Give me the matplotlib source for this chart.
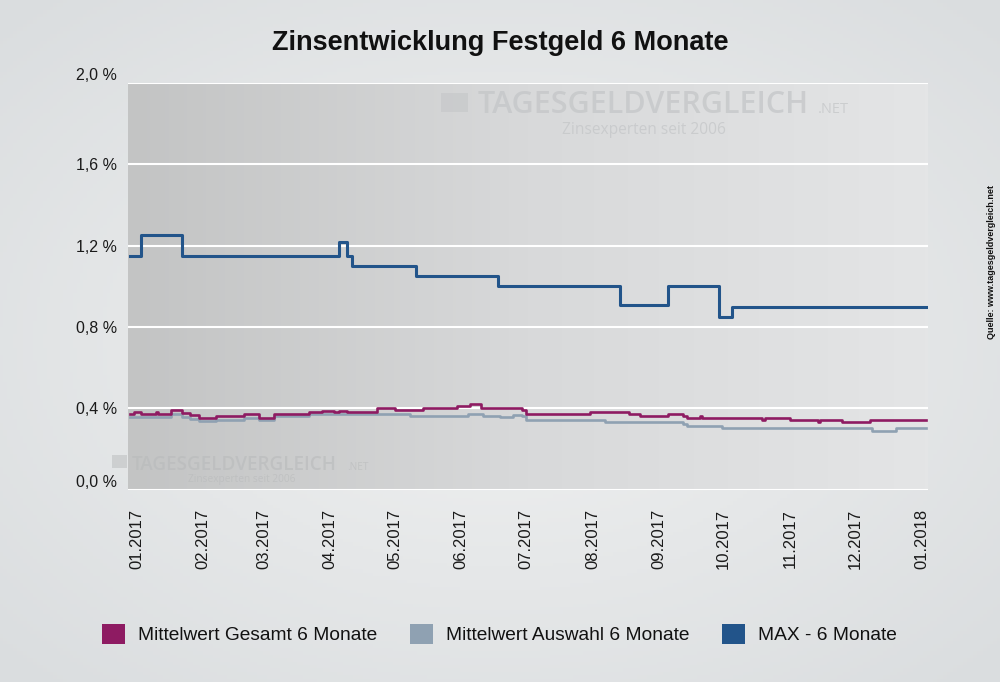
import numpy as np
import pandas as pd
import matplotlib
matplotlib.use("Agg")
import matplotlib.pyplot as plt
import matplotlib.dates as mdates
from matplotlib.patches import Patch, Rectangle
from matplotlib.colors import LinearSegmentedColormap

plt.rcParams['font.family'] = ['Liberation Sans', 'DejaVu Sans']

# ---------------- data ----------------
title = "Zinsentwicklung Festgeld 6 Monate"
series_names = ["Mittelwert Gesamt 6 Monate", "Mittelwert Auswahl 6 Monate", "MAX - 6 Monate"]
series_colors = ["#8e1b62", "#8fa1b2", "#22548a"]

end_date = "2018-01-03"

max_dates = ["2016-12-29", "2017-01-03", "2017-01-22", "2017-04-05", "2017-04-09",
             "2017-04-11", "2017-05-11", "2017-06-18", "2017-08-14", "2017-09-05",
             "2017-09-29", "2017-10-05"]
max_values = [1.15, 1.25, 1.15, 1.22, 1.15, 1.10, 1.05, 1.00, 0.91, 1.00, 0.85, 0.90]

gesamt_dates = ["2016-12-29", "2016-12-31", "2017-01-03", "2017-01-10", "2017-01-11",
                "2017-01-17", "2017-01-22", "2017-01-26", "2017-01-30", "2017-02-07",
                "2017-02-20", "2017-02-27", "2017-03-06", "2017-03-22", "2017-03-28",
                "2017-04-03", "2017-04-05", "2017-04-09", "2017-04-23", "2017-05-01",
                "2017-05-14", "2017-05-30", "2017-06-05", "2017-06-10", "2017-06-29",
                "2017-07-01", "2017-07-31", "2017-08-18", "2017-08-23", "2017-09-05",
                "2017-09-12", "2017-09-14", "2017-09-20", "2017-09-21", "2017-10-19",
                "2017-10-20", "2017-11-01", "2017-11-14", "2017-11-15", "2017-11-25",
                "2017-12-08"]
gesamt_values = [0.37, 0.38, 0.37, 0.38, 0.37, 0.39, 0.375, 0.365, 0.35, 0.362,
                 0.372, 0.351, 0.37, 0.38, 0.389, 0.38, 0.389, 0.38, 0.40, 0.39,
                 0.40, 0.41, 0.42, 0.40, 0.39, 0.372, 0.382, 0.372, 0.362, 0.372,
                 0.362, 0.351, 0.362, 0.351, 0.341, 0.351, 0.341, 0.331, 0.341, 0.331,
                 0.341]

auswahl_dates = ["2016-12-29", "2017-01-17", "2017-01-22", "2017-01-26", "2017-01-30",
                 "2017-02-07", "2017-02-20", "2017-02-27", "2017-03-06", "2017-03-22",
                 "2017-05-08", "2017-06-04", "2017-06-11", "2017-06-19", "2017-06-25",
                 "2017-06-29", "2017-07-01", "2017-08-07", "2017-09-12", "2017-09-14",
                 "2017-09-30", "2017-12-09", "2017-12-20"]
auswahl_values = [0.355, 0.37, 0.355, 0.345, 0.335, 0.34, 0.35, 0.34, 0.36, 0.37,
                  0.362, 0.372, 0.362, 0.355, 0.365, 0.36, 0.341, 0.331, 0.323, 0.314,
                  0.301, 0.29, 0.301]

y_ticks = [0.0, 0.4, 0.8, 1.2, 1.6, 2.0]
y_tick_labels = ["0,0 %", "0,4 %", "0,8 %", "1,2 %", "1,6 %", "2,0 %"]
x_tick_dates = pd.date_range("2017-01-01", "2018-01-01", freq="MS")

# ---------------- figure ----------------
W, H = 1000, 682
fig = plt.figure(figsize=(W / 100, H / 100), dpi=100)

# figure background (radial gradient)
bg = fig.add_axes([0, 0, 1, 1])
bg.set_zorder(-5)
yy, xx = np.mgrid[0:1:200j, 0:1:300j]
r = np.sqrt(((xx - 0.5) / 0.7) ** 2 + ((yy - 0.5) / 0.7) ** 2)
bg_cmap = LinearSegmentedColormap.from_list("bgc", ["#f1f2f2", "#dadddf"])
bg.imshow(r, cmap=bg_cmap, extent=[0, 1, 0, 1], aspect="auto", vmin=0, vmax=1.0)
bg.set_xlim(0, 1)
bg.set_ylim(0, 1)
bg.axis("off")

def fx(x):
    return x / W

def fy(y):
    return 1 - y / H

ax = fig.add_axes([fx(128), fy(489.6), 800 / W, (489.6 - 83) / H])

# plot area gradient (horizontal)
grad = np.linspace(0, 1, 256).reshape(1, -1)
pa_cmap = LinearSegmentedColormap.from_list("pa", ["#c3c4c4", "#d8d9da", "#e4e5e6"])
ax.imshow(grad, cmap=pa_cmap, extent=[0, 1, 0, 1], transform=ax.transAxes,
          aspect="auto", zorder=-2)

def series(dates, values):
    d = list(pd.to_datetime(dates)) + [pd.Timestamp(end_date)]
    v = list(values) + [values[-1]]
    return d, v

d, v = series(max_dates, max_values)
ax.plot(d, v, drawstyle="steps-post", color=series_colors[2], lw=2.2, zorder=3)
d, v = series(auswahl_dates, auswahl_values)
ax.plot(d, v, drawstyle="steps-post", color=series_colors[1], lw=1.9, zorder=3)
d, v = series(gesamt_dates, gesamt_values)
ax.plot(d, v, drawstyle="steps-post", color=series_colors[0], lw=1.9, zorder=4)

ax.set_xlim(pd.Timestamp("2016-12-28"), pd.Timestamp("2018-01-04"))
ax.set_ylim(0, 2.0)

ax.set_yticks(y_ticks, y_tick_labels)
ax.set_xticks(x_tick_dates)
ax.xaxis.set_major_formatter(mdates.DateFormatter("%m.%Y"))
ax.tick_params(axis="y", length=0, pad=8, labelsize=11.5, labelcolor="#1a1a1a")
ax.tick_params(axis="x", length=0, pad=14, labelsize=12, labelcolor="#1a1a1a",
               labelrotation=90)
yt = ax.yaxis.get_major_ticks()
yt[0].label1.set_va("bottom")
yt[-1].label1.set_va("bottom")

ax.grid(axis="y", color="white", lw=1.5, zorder=1)
ax.grid(axis="x", visible=False)
ax.set_axisbelow(True)
for s in ax.spines.values():
    s.set_visible(False)

# title
fig.text(0.5, fy(43), title, ha="center", va="center", fontsize=19.5,
         fontweight="bold", color="#111111")

# watermarks
wm_font = ["Open Sans", "DejaVu Sans"]
wm_col = "#c4c6c8"
fig.text(fx(478), fy(113), "TAGESGELDVERGLEICH", ha="left", va="baseline",
         fontsize=22.0, family=wm_font, fontweight="semibold",
         color=wm_col, alpha=0.75)
fig.text(fx(849), fy(113), ".NET", ha="right", va="baseline", fontsize=10.5,
         family=wm_font, color=wm_col, alpha=0.75)
fig.text(fx(644), fy(134), "Zinsexperten seit 2006", ha="center", va="baseline",
         fontsize=11.2, family=wm_font, color=wm_col, alpha=0.75)
fig.patches.append(Rectangle((fx(441), fy(112)), 27 / W, 19 / H,
                             transform=fig.transFigure, color=wm_col, alpha=0.6, lw=0))

wm_col2 = "#b8babb"
fig.text(fx(132), fy(469.5), "TAGESGELDVERGLEICH", ha="left", va="baseline",
         fontsize=13.6, family=wm_font, fontweight="semibold",
         color=wm_col2, alpha=0.6)
fig.text(fx(369), fy(469.5), ".NET", ha="right", va="baseline", fontsize=7.3,
         family=wm_font, color=wm_col2, alpha=0.6)
fig.text(fx(242), fy(482), "Zinsexperten seit 2006", ha="center", va="baseline",
         fontsize=7.3, family=wm_font, color=wm_col2, alpha=0.6)
fig.patches.append(Rectangle((fx(112), fy(468)), 15 / W, 13 / H,
                             transform=fig.transFigure, color=wm_col2, alpha=0.5, lw=0))

# source text
fig.text(fx(992), fy(262), "Quelle: www.tagesgeldvergleich.net", rotation=90,
         ha="center", va="center", fontsize=6.5, fontweight="bold", color="#111111")

# legend
handles = [Patch(facecolor=c, edgecolor="none") for c in series_colors]
fig.legend(handles, series_names, loc="center", bbox_to_anchor=(0.4995, fy(634)),
           ncol=3, frameon=False, fontsize=13.8, handlelength=1.2,
           handleheight=1.2, handletextpad=0.68, columnspacing=1.7,
           labelcolor="#111111")

fig.savefig("out.png", dpi=100)
